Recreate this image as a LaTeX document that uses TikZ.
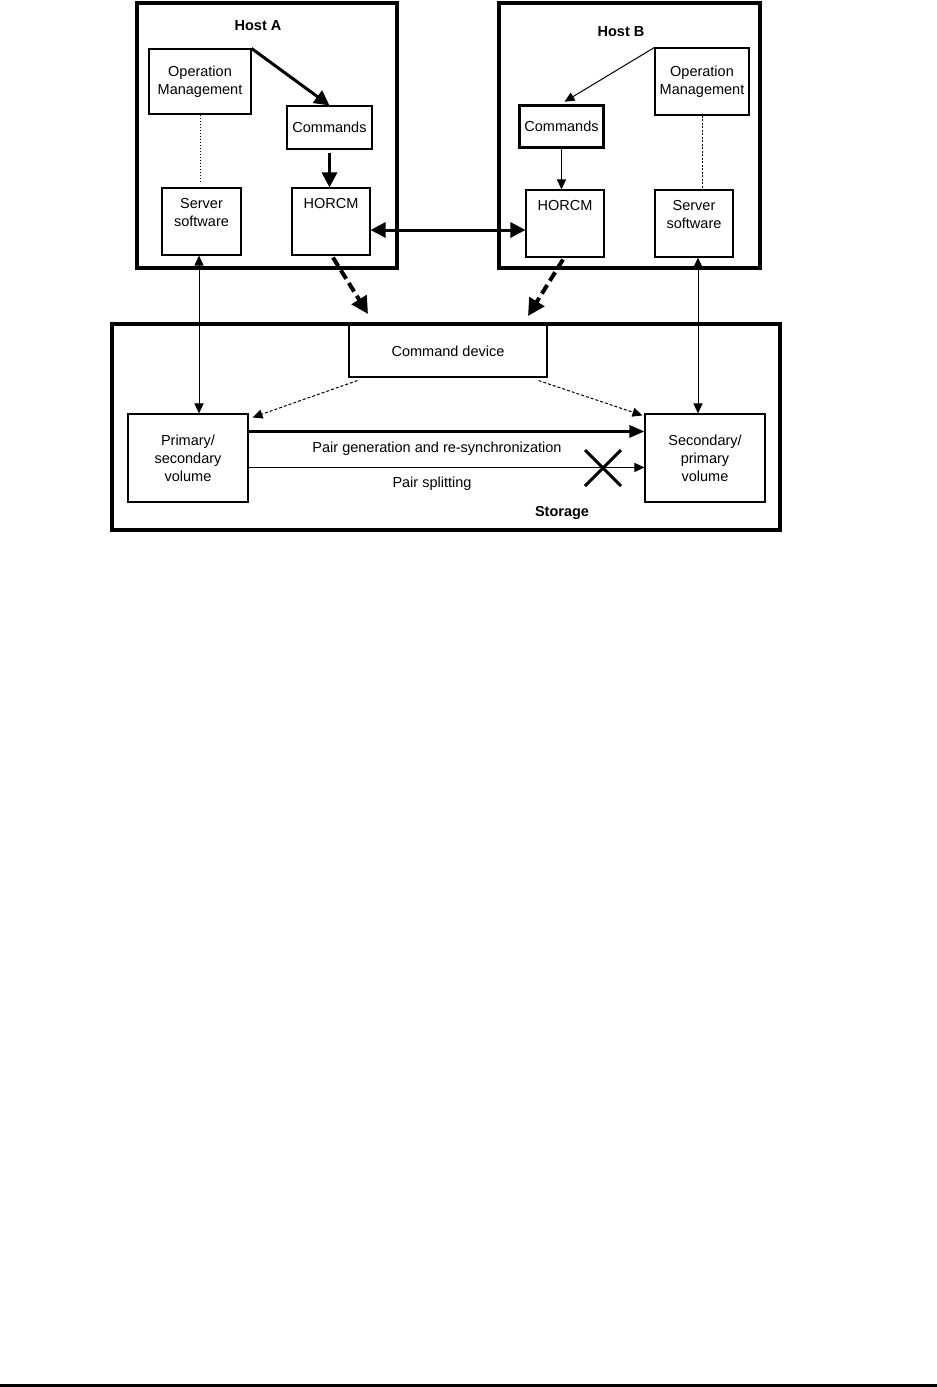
\documentclass[tikz,border=0pt]{standalone}
\usepackage{fontspec}
\setmainfont{Liberation Sans}
\usetikzlibrary{arrows.meta,calc}
\tikzset{
  txt/.style={font=\fontsize{14.5}{18}\selectfont, inner sep=0pt, align=center},
  boldtxt/.style={txt, font=\fontsize{14.5}{18}\selectfont\bfseries},
  hostbox/.style={draw, line width=4pt, inner sep=0pt},
  plainbox/.style={draw, line width=1.1pt, inner sep=0pt, txt},
  heavybox/.style={draw, line width=3.5pt, inner sep=0pt, txt},
  toplabel/.style={label={[txt, anchor=north, yshift=-11pt]north:{#1}}},
  thickarrow/.style={line width=3pt, -{Triangle[length=15pt,width=15pt]}},
  thickdouble/.style={line width=3pt, {Triangle[length=15pt,width=15pt]}-{Triangle[length=15pt,width=15pt]}},
  thinarrow/.style={line width=1pt, -{Triangle[length=10pt,width=9pt]}},
  thindouble/.style={line width=1pt, {Triangle[length=10pt,width=9pt]}-{Triangle[length=10pt,width=9pt]}},
  heavydashed/.style={line width=4pt, dash pattern=on 10pt off 5pt, -{Triangle[length=17pt,width=17pt]}},
  finedashed/.style={line width=1pt, dash pattern=on 3pt off 2pt, -{Triangle[length=10pt,width=9pt]}},
}
\begin{document}
\begin{tikzpicture}[x=1pt,y=-1pt]
\useasboundingbox (0,0) rectangle (937,1387);

% Host A
\node[hostbox, minimum width=260pt, minimum height=265pt] (hostA) at (267,135.5) {};
\node[boldtxt] (hostAlbl) at (258,26) {Host A};
\node[plainbox, minimum width=102pt, minimum height=65pt] (opA) at (200,81.5) {Operation\\Management};
\node[plainbox, minimum width=85pt, minimum height=43pt] (cmdA) at (329.5,127.5) {Commands};
\node[plainbox, minimum width=79pt, minimum height=67pt, toplabel={Server\\software}] (srvA) at (201.5,221.5) {};
\node[plainbox, minimum width=78pt, minimum height=67pt, toplabel={HORCM}] (horA) at (331,221.5) {};

% Host B
\node[hostbox, minimum width=261pt, minimum height=265pt] (hostB) at (629.5,135.5) {};
\node[boldtxt] (hostBlbl) at (621,32) {Host B};
\node[plainbox, minimum width=94pt, minimum height=67pt] (opB) at (702,81.5) {Operation\\Management};
\node[heavybox, minimum width=84pt, minimum height=42pt] (cmdB) at (561.5,126.5) {Commands};
\node[plainbox, minimum width=78pt, minimum height=67pt, toplabel={HORCM}] (horB) at (565,223.5) {};
\node[plainbox, minimum width=78pt, minimum height=67pt, toplabel={Server\\software}] (srvB) at (694,223.5) {};

% Storage
\node[hostbox, minimum width=668pt, minimum height=206pt] (stor) at (446,427) {};
\node[boldtxt] (storlbl) at (562,513) {Storage};
\node[plainbox, fill=white, minimum width=198pt, minimum height=52pt] (cmddev) at (448,351) {Command device};
\node[plainbox, minimum width=120pt, minimum height=88pt] (pv) at (188,458) {Primary/\\secondary\\volume};
\node[plainbox, minimum width=120pt, minimum height=88pt] (sv) at (705,458) {Secondary/\\primary\\volume};

% Connectors in Host A
\draw[thickarrow] (opA.north east) -- (cmdA.north);
\draw[thickarrow, shorten <=3pt] (cmdA.south) -- (cmdA.south |- horA.north);
\draw[line width=1pt, dotted, shorten >=5pt] (opA.south) -- (opA.south |- srvA.north);

% Connectors in Host B
\draw[thinarrow] (opB.north west) -- ($(cmdB.north)+(3,-2)$);
\draw[thinarrow] (cmdB.south) -- (cmdB.south |- horB.north);
\draw[line width=0.8pt, dash pattern=on 2pt off 1.5pt] (opB.south) -- (opB.south |- srvB.north);

% HORCM <-> HORCM
\draw[thickdouble] ($(horA.east)+(0,8.5)$) -- ($(horB.west)+(0,6.5)$);

% HORCM -> command device
\coordinate (tipA) at (368,314);
\coordinate (tipB) at (528,316);
\draw[heavydashed] ($(horA.south)+(2,2)$) -- (tipA);
\draw[heavydashed] ($(horB.south)+(-2,2)$) -- (tipB);

% Server software <-> volumes
\draw[thindouble] ($(srvA.south)+(-2.5,0)$) -- ($(srvA.south |- pv.north)+(-2.5,0)$);
\draw[thindouble] ($(srvB.south)+(4,0)$) -- ($(srvB.south |- sv.north)+(4,0)$);

% Command device -> volumes
\draw[finedashed] ($(cmddev.south west)+(9,3)$) -- ($(pv.north east)+(4,4)$);
\draw[finedashed] ($(cmddev.south east)+(-9,3)$) -- ($(sv.north west)+(-2,2)$);

% Pair operations
\draw[line width=3pt, -{Triangle[length=15pt,width=12pt]}] ($(pv.north east)+(0,18)$) -- ($(sv.north west)+(0,18)$);
\node[txt] (pairgen) at (437,449) {Pair generation and re-synchronization};
\draw[thinarrow] ($(pv.north east)+(0,54)$) -- ($(sv.north west)+(0,54)$);
\node[txt] (pairsplit) at (432,484) {Pair splitting};

% Cross mark
\coordinate (xc) at (603,468);
\draw[line width=3pt] ($(xc)+(-18,-18)$) -- ($(xc)+(18,18)$);
\draw[line width=3pt] ($(xc)+(-18,18)$) -- ($(xc)+(18,-18)$);

% Bottom rule
\draw[line width=3pt] (0,1385) -- (937,1385);
\end{tikzpicture}
\end{document}
